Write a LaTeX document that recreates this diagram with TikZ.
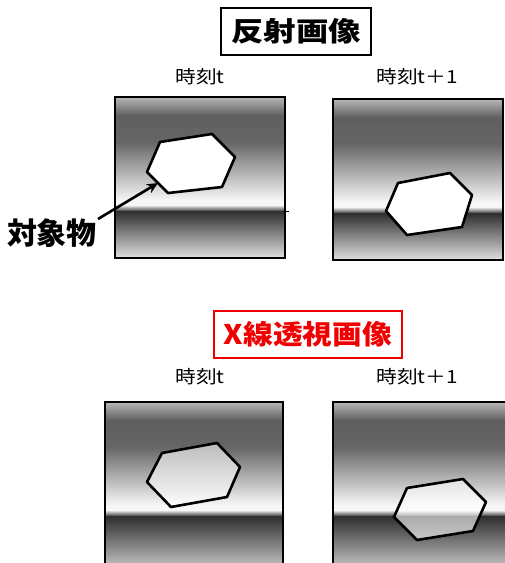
\documentclass[tikz,border=0pt]{standalone}
\usepackage{fontspec}
\usepackage{graphicx}
\newfontfamily\cjk{Noto Sans CJK JP}
\usetikzlibrary{arrows.meta}
\definecolor{xred}{RGB}{240,0,0}
\newcommand{\panelbg}[4]{%
  \begin{scope}[shift={(#1,#2)}]
    \shade[top color=black!28, bottom color=black!63] (0,0) rectangle (#3,18.6);
    \shade[top color=black!63, bottom color=black!60] (0,18) rectangle (#3,45.6);
    \shade[top color=black!60, bottom color=black!3] (0,45) rectangle (#3,103.6);
    \fill[black!3] (0,103) rectangle (#3,108.6);
    \shade[top color=black!3, bottom color=black!82] (0,108) rectangle (#3,114.6);
    \shade[top color=black!82, bottom color=black!12] (0,114) rectangle (#3,#4);
  \end{scope}}
\tikzset{
  titlebox/.style={draw, line width=2pt, inner xsep=10pt, inner ysep=6pt, font=\cjk\bfseries\fontsize{27}{27}\selectfont},
  timelabel/.style={font=\cjk\fontsize{18}{18}\selectfont},
  frame/.style={line width=2.6pt},
  hexa/.style={line width=2.6pt, line join=round},
}
\begin{document}
\begin{tikzpicture}[x=1pt,y=-1pt]
\useasboundingbox (0,0) rectangle (505,563);
\clip (0,0) rectangle (505,563);
\fill[white] (0,0) rectangle (505,563);
% titles
\node[titlebox, minimum width=142pt, minimum height=47pt] (t1) at (296,31.5) {\scalebox{1.2}[1]{反射画像}};
\node[titlebox, draw=xred, text=xred, minimum width=186pt, minimum height=47pt] (t2) at (308,334.5) {\scalebox{1.1}[1]{X線透視画像}};
% time labels
\node[timelabel] (l1) at (200,77) {\scalebox{1.15}[1]{時刻t}};
\node[timelabel] (l2) at (417,77) {\scalebox{1.15}[1]{時刻t＋1}};
\node[timelabel] (l3) at (200,377) {\scalebox{1.15}[1]{時刻t}};
\node[timelabel] (l4) at (417,377) {\scalebox{1.15}[1]{時刻t＋1}};
% top panels
\panelbg{115}{97}{170}{161}
\draw[frame] (115,97) rectangle (285,258);
\draw[line width=1pt] (285,211) -- (289,211);
\panelbg{333}{99}{170}{161}
\draw[frame] (333,99) rectangle (503,260);
% bottom panels
\panelbg{105}{402}{178}{175}
\draw[frame] (105,570) -- (105,402) -- (283,402) -- (283,570);
\panelbg{333}{402}{180}{175}
\draw[frame] (333,570) -- (333,402) -- (520,402);
% hexagons
\draw[hexa, fill=white] (160,142) -- (212,134) -- (235,157) -- (222,187) -- (168,193) -- (147,172) -- cycle;
\draw[hexa, fill=white] (398,183) -- (450,173) -- (472,195) -- (462,227) -- (407,235) -- (386,211) -- cycle;
\draw[hexa, fill=white, fill opacity=0.6] (162,453) -- (217,443) -- (240,467) -- (227,497) -- (171,507) -- (147,482) -- cycle;
\draw[hexa, fill=white, fill opacity=0.6] (407,488) -- (463,479) -- (486,502) -- (473,531) -- (417,540) -- (394,517) -- cycle;
% object label and arrow
\node[font=\cjk\bfseries\fontsize{30}{30}\selectfont] (obj) at (52,233) {対象物};
\coordinate (tail) at (98,219);
\coordinate (head) at (158,183);
\draw[line width=2.6pt, -{Stealth[length=11pt,width=10pt]}] (tail) -- (head);
\end{tikzpicture}
\end{document}
